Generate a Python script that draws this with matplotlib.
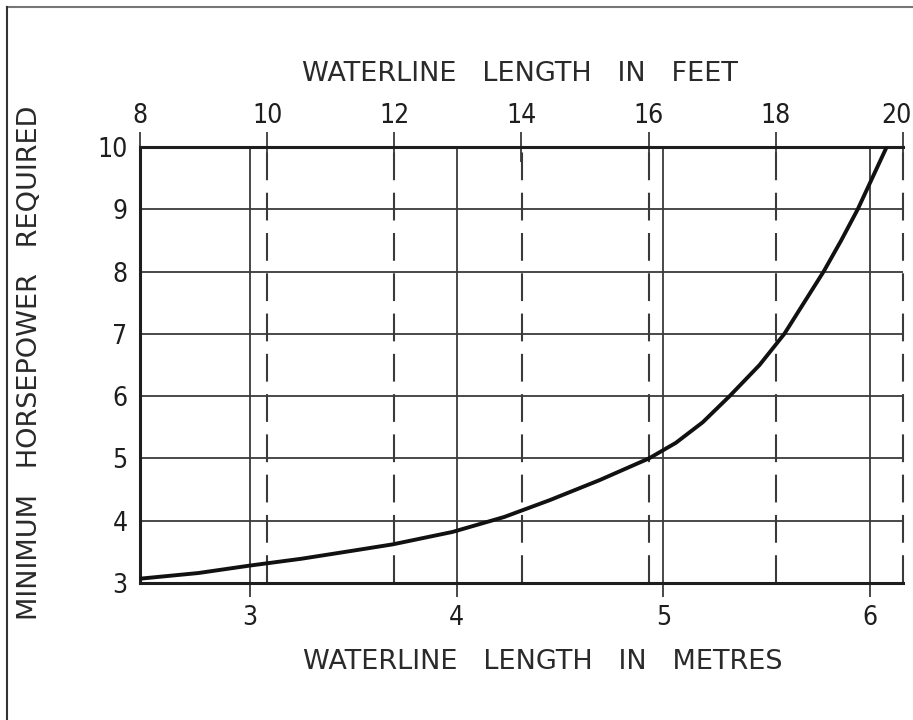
import matplotlib
matplotlib.use("Agg")
import matplotlib.pyplot as plt
from matplotlib.lines import Line2D
from matplotlib.transforms import ScaledTranslation
import numpy as np

plt.rcParams['lines.scale_dashes'] = False
plt.rcParams['font.family'] = ['DejaVu Sans']

# Data: waterline length (m) vs minimum horsepower
length_m = [2.47, 2.75, 3.00, 3.25, 3.50, 3.69, 3.98, 4.23, 4.45, 4.69,
            4.93, 5.06, 5.19, 5.32, 5.465, 5.585, 5.68, 5.775, 5.86,
            5.94, 6.01, 6.08]
horsepower = [3.07, 3.16, 3.28, 3.39, 3.52, 3.62, 3.82, 4.06, 4.33, 4.65,
              5.00, 5.25, 5.58, 6.00, 6.50, 7.00, 7.50, 8.00, 8.50,
              9.00, 9.50, 10.0]

metre_ticks = [3, 4, 5, 6]
feet_ticks = [8, 10, 12, 14, 16, 18, 20]
hp_ticks = [3, 4, 5, 6, 7, 8, 9, 10]

X_MIN, X_MAX = 2.468, 6.159
FT_PER_M = 12.0 / (X_MAX - X_MIN)

def m_to_ft(m):
    return 8 + (np.asarray(m) - X_MIN) * FT_PER_M

def ft_to_m(ft):
    return X_MIN + (np.asarray(ft) - 8) / FT_PER_M

ink = '#1e1e1e'
grid = '#3a3a3a'

fig = plt.figure(figsize=(9.13, 7.2), dpi=100)
fig.patch.set_facecolor('white')
ax = fig.add_axes([140/913, 137/720, 763/913, 436/720])
ax.set_xlim(X_MIN, X_MAX)
ax.set_ylim(3, 10)

# horizontal grid
for h in hp_ticks[1:-1]:
    ax.axhline(h, color=grid, lw=1.3, zorder=1)
# solid metre lines
for m in metre_ticks:
    ax.axvline(m, color=grid, lw=1.3, zorder=1)
# dashed feet lines
for ft in feet_ticks[1:]:
    ax.axvline(float(ft_to_m(ft)), color=grid, lw=1.5, zorder=1,
               linestyle=(0, (20, 9)), clip_on=False)

ax.plot(length_m, horsepower, color='#111111', lw=2.8, zorder=3,
        solid_capstyle='round', solid_joinstyle='round')

for side in ['left', 'top', 'bottom']:
    ax.spines[side].set_linewidth(2.2)
    ax.spines[side].set_color(ink)
ax.spines['right'].set_visible(False)

ax.set_xticks(metre_ticks)
ax.set_yticks(hp_ticks)
ax.tick_params(axis='x', direction='out', length=10, width=1.3, color=grid,
               labelsize=19, pad=6, labelcolor=ink)
ax.tick_params(axis='y', length=0, labelsize=19, pad=9, labelcolor=ink)
for lab in ax.get_xticklabels() + ax.get_yticklabels():
    lab.set_fontstretch('condensed')

sec = ax.secondary_xaxis('top', functions=(m_to_ft, ft_to_m))
sec.set_xticks(feet_ticks)
sec.tick_params(axis='x', direction='inout', length=22, width=1.3, color=grid,
                labelsize=19, pad=2, labelcolor=ink)
sec.spines['top'].set_visible(False)
sec_labels = sec.get_xticklabels()
for lab in sec_labels:
    lab.set_fontstretch('condensed')
sec_labels[-1].set_transform(sec_labels[-1].get_transform() +
                             ScaledTranslation(-7/100, 0, fig.dpi_scale_trans))

fig.text(543/913, 1 - 662/720, 'WATERLINE   LENGTH   IN   METRES', ha='center',
         va='center', fontsize=19.5, color='#2a2a2a')
fig.text(520/913, 1 - 74/720, 'WATERLINE   LENGTH   IN   FEET', ha='center',
         va='center', fontsize=19.5, color='#2a2a2a')
fig.text(30/913, 1 - 363/720, 'MINIMUM   HORSEPOWER   REQUIRED', ha='center',
         va='center', rotation=90, fontsize=19.5, color='#2a2a2a')

# scan border
fig.add_artist(Line2D([7/913, 1], [1 - 7/720, 1 - 7/720], color='#777777', lw=1.5,
                      transform=fig.transFigure))
fig.add_artist(Line2D([7/913, 7/913], [0, 1 - 7/720], color='#333333', lw=1.5,
                      transform=fig.transFigure))

fig.savefig('out.png', dpi=100, facecolor='white')
